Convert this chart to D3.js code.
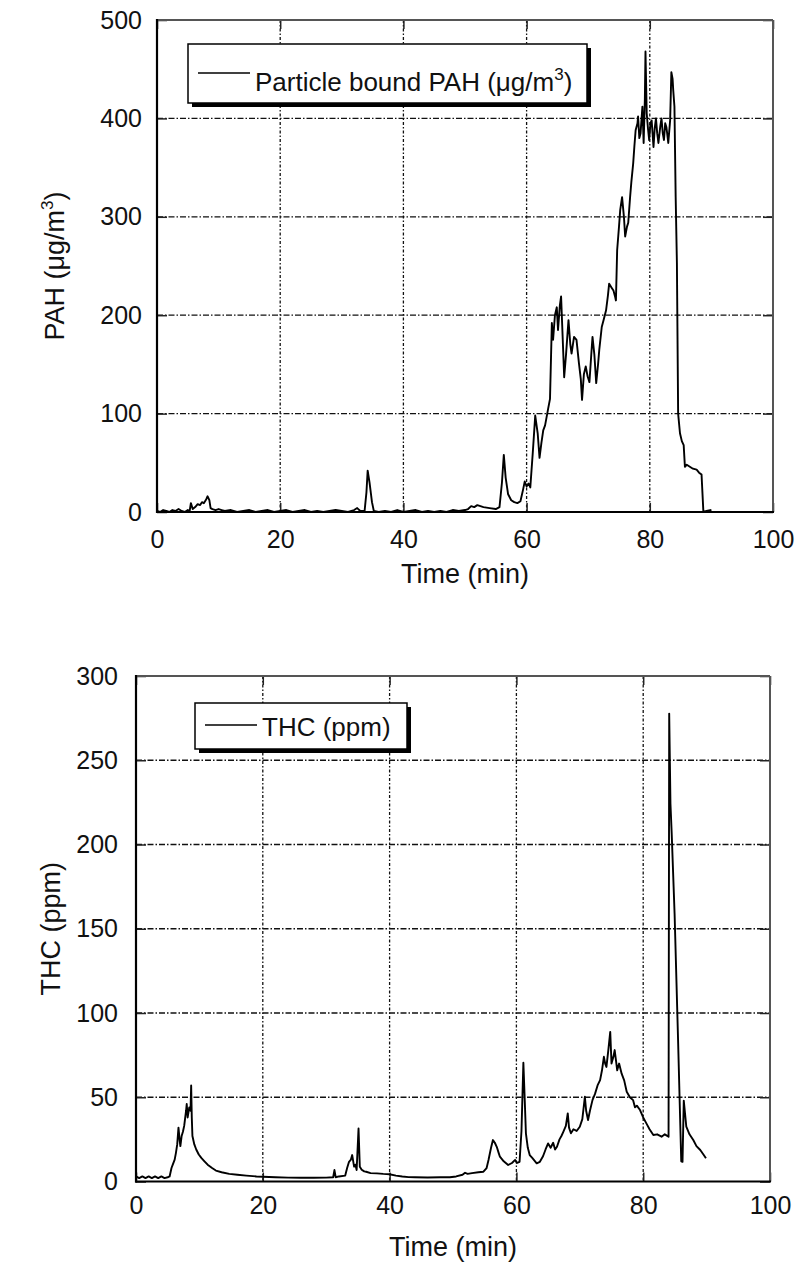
<!DOCTYPE html>
<html>
<head>
<meta charset="utf-8">
<script src="https://cdn.jsdelivr.net/npm/d3@7"></script>
<style>
  body { margin: 0; background: #fff; }
  svg text { font-family: "Liberation Sans", Arial, sans-serif; fill: #111; }
</style>
</head>
<body>
<div id="chart"></div>
<script>
// time axis (min), shared by both panels
const xTicks = [0, 20, 40, 60, 80, 100];
const pahTicks = [0, 100, 200, 300, 400, 500];
const thcTicks = [0, 50, 100, 150, 200, 250, 300];

// particle bound PAH (ug/m3)
const pahTime = [0,0.5,1,1.5,2,2.5,3,3.5,4,4.5,5,5.3,5.5,5.8,6.2,6.6,7,7.3,7.6,8,8.2,8.5,8.7,9,9.5,10,10.5,11,12,13,14,15,16,17,18,19,20,21,22,23,24,25,26,27,28,29,30,31,32,32.5,33,33.7,34.0,34.2,34.5,34.9,35.2,36,37,38,39,40,41,42,43,44,45,46,47,48,49,50,50.5,51,51.5,52,52.5,53,54,55,55.6,56.0,56.3,56.6,57,57.5,58,58.5,59,59.4,59.7,60.0,60.3,60.6,61.0,61.4,61.8,62.1,62.4,62.7,63.0,63.5,63.8,64.1,64.3,64.6,64.9,65.1,65.4,65.6,65.9,66.1,66.4,66.8,67.1,67.3,67.7,68.1,68.5,68.8,69.0,69.3,69.6,69.9,70.2,70.5,70.7,71.0,71.3,71.6,71.8,72.2,72.5,72.9,73.2,73.4,73.8,74.1,74.4,74.5,74.7,75.0,75.2,75.5,75.8,76.0,76.3,76.5,76.8,77.0,77.3,77.5,77.7,78.0,78.1,78.3,78.5,78.8,79.0,79.2,79.3,79.5,79.7,79.9,80.1,80.3,80.6,80.8,81.0,81.2,81.4,81.7,81.9,82.1,82.3,82.5,82.7,83.0,83.3,83.5,83.7,83.8,84.0,84.2,84.4,84.6,84.9,85.2,85.5,85.7,86.0,86.5,87.0,87.6,88.0,88.4,88.7,89.2,90.0];
const pahValue = [1,0,2,1,0,2,1,3,1,0,2,1,9,3,5,8,7,10,9,13,16,12,4,3,2,3,2,1,2,0,1,2,0,1,2,0,1,2,0,1,2,0,1,0,1,2,1,0,2,4,1,1,20,42,30,10,1,0,1,0,2,0,1,2,0,1,0,1,0,2,1,2,3,6,5,7,6,5,4,3,5,30,58,35,18,12,10,9,11,22,31,26,29,25,60,98,80,55,70,83,88,105,115,192,175,200,208,185,210,219,170,137,160,195,170,161,178,175,151,135,114,140,148,138,132,160,178,160,131,150,165,188,195,205,220,232,228,225,218,215,266,290,307,320,300,280,290,294,320,335,354,372,388,395,402,380,385,412,375,420,468,405,390,378,395,398,371,390,400,385,375,392,400,385,378,395,391,375,398,447,440,429,412,320,253,100,80,72,68,46,48,46,44,43,40,38,0,1,2];

// THC (ppm)
const thcTime = [0,0.5,1,1.5,2,2.5,3,3.5,4,4.5,5,5.3,5.6,5.8,6.1,6.3,6.5,6.7,6.9,7.0,7.2,7.4,7.6,7.9,8.0,8.15,8.4,8.6,8.7,8.8,8.9,9.2,9.5,9.9,10.3,10.8,11.3,12,12.6,13.5,14.7,16,17.4,19,20,22,24,26,28,30,31.1,31.3,31.5,32,33,33.3,33.6,33.9,34.1,34.4,34.6,34.8,35.1,35.3,35.6,36,36.3,37,38,39,40,41,42,43,44,46,48,49.5,50.5,51.5,51.9,52.3,53,54,54.8,55.3,55.6,56.0,56.3,56.6,56.9,57.2,57.4,58,58.7,59.3,59.8,60.1,60.5,60.8,61.1,61.3,61.5,61.8,62.1,62.5,63.2,63.7,64.2,64.6,65.0,65.4,65.8,66.1,66.4,66.8,67.1,67.4,67.8,68.1,68.3,68.6,69.0,69.5,70.0,70.4,70.8,71.0,71.3,71.6,72.0,72.4,72.8,73.2,73.5,73.8,74.0,74.2,74.5,74.8,75.0,75.3,75.5,75.7,75.9,76.2,76.6,77.0,77.4,77.9,78.4,78.7,79.0,79.5,80.0,80.5,81.0,81.6,82.2,82.9,83.4,84.0,84.1,84.3,84.5,84.95,85.5,86.0,86.2,86.4,86.8,87.3,87.9,88.4,89.0,89.5,89.9];
const thcValue = [3,2,3,2,3,2,3,2,3,2,2.5,3,8,10,13,17,22,32,24,21,27,29.5,33,42,46,38,44,42,57,38,27,22,19,16,14,12,10,8,6.5,5.5,4.5,4,3.5,3,2.8,2.5,2.3,2.2,2.2,2.3,2.5,6.8,2.5,3,3.5,8,11.7,13,15.7,8.8,10,6.8,31.5,8.8,7,6,5.8,5,4.8,4.5,4.3,3.5,3,2.6,2.5,2.4,2.5,2.5,3,4,5.2,4.5,5,5.5,5.8,8,12.8,20,24.6,23,20.6,17,14.7,12,9.8,11,12.8,11,11.7,30,70.5,50,28.6,20,15.7,14,10.8,11.7,15,19,22.6,20,23,19,20.6,25,27,29.5,33,40.4,32,28.6,31,30,32.5,37,50.3,42,36.5,42,48.3,52,57,60.2,66,74,70,68,78,88.8,70,74,78,72,66,70,64,60,53.3,50,48.3,44,45,42.4,38,34.5,31,27.6,28,26.6,28,26.6,277.7,224,206,159,84,12,11.7,48,32.5,28,24.6,21,18.7,16,13.8];

const W = 798, H = 1264;
const svg = d3.select("#chart").append("svg")
    .attr("width", W)
    .attr("height", H);

function panel(opts) {
    const left = opts.left, top = opts.top;
    const w = opts.right - left, h = opts.bottom - top;

    const x = d3.scaleLinear().domain([0, 100]).range([0, w]);
    const y = d3.scaleLinear().domain([0, opts.yMax]).range([h, 0]);

    const g = svg.append("g").attr("transform", `translate(${left},${top})`);

    // grid, dash-dot
    g.append("g").selectAll("line")
        .data(xTicks.slice(1, -1))
        .enter().append("line")
        .attr("x1", d => x(d)).attr("x2", d => x(d))
        .attr("y1", 0).attr("y2", h)
        .attr("stroke", "#111").attr("stroke-width", 1.3)
        .attr("stroke-dasharray", "3,2,1.5,2");

    g.append("g").selectAll("line")
        .data(opts.yTicks.slice(1, -1))
        .enter().append("line")
        .attr("x1", 0).attr("x2", w)
        .attr("y1", d => y(d)).attr("y2", d => y(d))
        .attr("stroke", "#111").attr("stroke-width", 1.3)
        .attr("stroke-dasharray", "6,2,1.5,2");

    // axes with inward ticks
    const xAxis = g.append("g")
        .attr("transform", `translate(0,${h})`)
        .call(d3.axisBottom(x).tickValues(xTicks).tickSizeInner(-9).tickSizeOuter(0).tickPadding(opts.xPad));
    const yAxis = g.append("g")
        .call(d3.axisLeft(y).tickValues(opts.yTicks).tickSizeInner(-10).tickSizeOuter(0).tickPadding(opts.yPad));
    g.append("g")
        .attr("transform", `translate(${w},0)`)
        .call(d3.axisRight(y).tickValues(opts.yTicks).tickSizeInner(-10).tickSizeOuter(0).tickFormat(""));
    g.append("g")
        .call(d3.axisTop(x).tickValues(xTicks).tickSizeInner(-9).tickSizeOuter(0).tickFormat(""));

    g.selectAll(".domain").remove();
    g.selectAll(".tick line").attr("stroke", "#222").attr("stroke-width", 1.5);
    [xAxis, yAxis].forEach(a => a.selectAll("text")
        .style("font-size", "25px")
        .style("font-family", "'Liberation Sans', Arial, sans-serif")
        .attr("fill", "#111"));

    // frame: dark left/bottom, grey top/right
    g.append("line").attr("x1", 0).attr("x2", w).attr("y1", 0).attr("y2", 0)
        .attr("stroke", "#555").attr("stroke-width", 2);
    g.append("line").attr("x1", w).attr("x2", w).attr("y1", 0).attr("y2", h)
        .attr("stroke", "#555").attr("stroke-width", 2);
    g.append("line").attr("x1", 0).attr("x2", 0).attr("y1", -1).attr("y2", h + 1)
        .attr("stroke", "#000").attr("stroke-width", 2.2);
    g.append("line").attr("x1", -1).attr("x2", w + 1).attr("y1", h).attr("y2", h)
        .attr("stroke", "#000").attr("stroke-width", 2.2);

    // series
    const pts = opts.time.map((t, i) => [t, opts.value[i]]);
    g.append("path")
        .datum(pts)
        .attr("fill", "none")
        .attr("stroke", "#000")
        .attr("stroke-width", 1.9)
        .attr("stroke-linejoin", "round")
        .attr("d", d3.line().x(d => x(d[0])).y(d => y(d[1])));

    // legend with drop shadow
    const lg = g.append("g").attr("transform", `translate(${opts.legend.x},${opts.legend.y})`);
    lg.append("rect").attr("x", 4).attr("y", 4)
        .attr("width", opts.legend.w).attr("height", opts.legend.h)
        .attr("fill", "#000");
    lg.append("rect")
        .attr("width", opts.legend.w).attr("height", opts.legend.h)
        .attr("fill", "#fff").attr("stroke", "#000").attr("stroke-width", 1.5);
    lg.append("line")
        .attr("x1", 10).attr("x2", 62)
        .attr("y1", opts.legend.lineY).attr("y2", opts.legend.lineY)
        .attr("stroke", "#000").attr("stroke-width", 1.3);
    const lt = lg.append("text")
        .attr("x", 67).attr("y", opts.legend.textY)
        .style("font-size", "26px");
    opts.legendText(lt);

    // axis titles
    g.append("text")
        .attr("x", w / 2).attr("y", h + opts.xTitleDy)
        .attr("text-anchor", "middle")
        .style("font-size", "27px")
        .text("Time (min)");

    const yt = g.append("text")
        .attr("transform", `translate(${opts.yTitleX},${h / 2}) rotate(-90)`)
        .attr("text-anchor", "middle")
        .style("font-size", "27px");
    opts.yTitle(yt);
}

function withCube(sel, before) {
    sel.append("tspan").text(before);
    sel.append("tspan").attr("dy", -11).style("font-size", "17px").text("3");
    sel.append("tspan").attr("dy", 11).text(")");
}

panel({
    left: 157, top: 20, right: 773, bottom: 512,
    yMax: 500, yTicks: pahTicks,
    time: pahTime, value: pahValue,
    xPad: 18, yPad: 15,
    xTitleDy: 71,
    yTitleX: -93,
    legend: {x: 31, y: 24, w: 399, h: 59, lineY: 29, textY: 47},
    legendText: t => withCube(t, "Particle bound PAH (\u03bcg/m"),
    yTitle: t => withCube(t, "PAH (\u03bcg/m")
});

panel({
    left: 136, top: 676, right: 770, bottom: 1181.5,
    yMax: 300, yTicks: thcTicks,
    time: thcTime, value: thcValue,
    xPad: 15, yPad: 18,
    xTitleDy: 74,
    yTitleX: -76,
    legend: {x: 59, y: 27, w: 212, h: 46, lineY: 22, textY: 33},
    legendText: t => t.text("THC (ppm)"),
    yTitle: t => t.text("THC (ppm)")
});
</script>
</body>
</html>
